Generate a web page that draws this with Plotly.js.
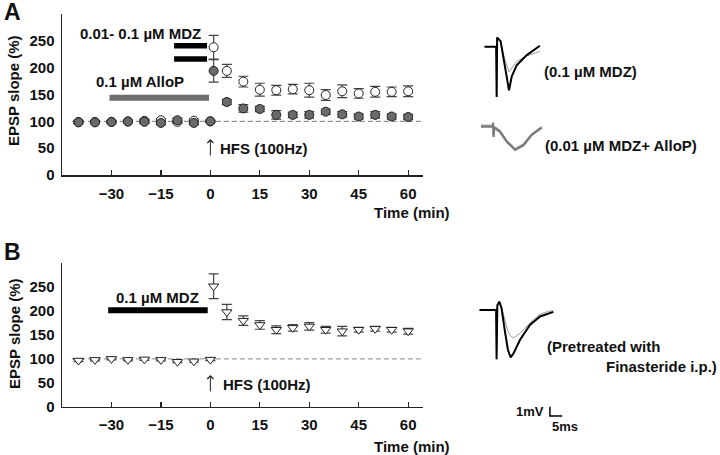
<!DOCTYPE html>
<html><head><meta charset="utf-8">
<script src="https://cdn.plot.ly/plotly-3.0.1.min.js"></script>
<style>html,body{margin:0;padding:0;background:#fff}#chart{width:720px;height:455px}</style>
</head><body><div id="chart"></div><script>
// ---------- data ----------
const timeMin = [-40,-35,-30,-25,-20,-15,-10,-5,0,1,5,10,15,20,25,30,35,40,45,50,55,60];
const xTickVals = [-30,-15,0,15,30,45,60];
const yTickVals = [0,50,100,150,200,250];

// Panel A
const mdzA      = [99,99,99,100,101,102,99,101,100,238,194,174,159,158,160,158,149,156,152,155,155,156];
const mdzAErr   = [2,2,2,2,3,3,3,3,2,22,12,10,12,9,9,13,10,12,9,10,9,10];
const alloA     = [98,98,99,99.5,99,97,102,97,100,194,136,124,123,112,112,112,118,113,109,112,109,108];
const alloAErr  = [2,2,2,2,3,3,4,3,2,21,5,7,5,8,5,6,5,5,5,6,5,5];
// Panel B
const finB      = [96.5,98,100,98,99,98,94,95,98.5,252,198,180,171,161,165,168,161,158,161,163,161,158];
const finBErr   = [2,2,2,2,2,2,2,2,2,26,16,10,9,8,7,8,7,10,5,5,5,6];

const baselinePct = [100, 100];
const baselineSpan = [-42, 64.5];

// drug application bars: [start, end] (min) and level (%)
const mdzBarUpperX = [-11, -1], mdzBarUpperY = [241, 241];
const mdzBarLowerX = [-11, -1], mdzBarLowerY = [216, 216];
const alloBarX = [-30.6, -0.4], alloBarY = [144, 144];
const mdzBarBX = [-31, -0.8], mdzBarBY = [202, 202];

// sample EPSP waveforms (ms, mV)
const wfA1_t     = [0,4.8,5.0,5.2,5.5,6.6,8.4,10,11.1,13.1,17.2,22.5];
const wfA1_post  = [0,0,-5.4,1.0,0.9,0.6,-2.2,-4.7,-3.2,-2.0,-0.9,0.1];
const wfA1_base  = [0,0,-5.4,1.0,0.9,0.5,-1.5,-2.7,-2.3,-1.6,-1.0,-0.5];
const wfA2_t     = [0,4.9,5.0,5.2,5.5,7.8,10.5,13.9,17.3,20.6,24.7];
const wfA2_post  = [0,0,0.4,-1.1,-0.1,-0.55,-1.6,-2.5,-2.0,-0.9,-0.1];
const wfA2_base  = [0.15,0.15,0.5,-1.0,0.05,-0.4,-1.45,-2.35,-1.85,-0.8,0.0];
const wfB_t      = [0,6.8,7.0,7.3,8.1,9.0,10.5,11.6,12.7,14.0,16.5,20.5,24.6,28,30];
const wfB_post   = [0,0,-5.3,0.5,0.9,0.2,-2.5,-4.3,-5.1,-4.6,-3.2,-1.6,-0.7,-0.35,-0.2];
const wfB_base   = [0,0,-5.3,0.5,0.9,0.3,-1.2,-2.3,-2.8,-3.0,-2.5,-1.4,-0.45,-0.15,-0.07];
const scaleBarMV = 1, scaleBarMS = 5;

// ---------- helpers ----------
const W = 720, H = 455;
const px = v => v / W;
const py = v => 1 - v / H;
const FONT = '"Liberation Sans", Arial, Helvetica, sans-serif';
const bold = (s, c) => ({family: FONT, size: s, color: c || '#111', weight: 'bold'});

function errTrace(y, err, xa, ya, sym, fill, name) {
  return {
    x: timeMin, y: y, xaxis: xa, yaxis: ya, type: 'scatter', mode: 'markers', name: name,
    marker: {symbol: sym, size: 9, color: fill, line: {color: '#222', width: 1}},
    error_y: {type: 'data', array: err, visible: true, color: '#444', thickness: 1.2, width: 5},
    cliponaxis: false, showlegend: false
  };
}
function barTrace(x, y, xa, ya, color, w) {
  return {x: x, y: y, xaxis: xa, yaxis: ya, mode: 'lines', line: {color: color, width: w},
          showlegend: false, hoverinfo: 'skip'};
}
function lineTrace(x, y, xa, ya, color, w, dash) {
  return {x: x, y: y, xaxis: xa, yaxis: ya, mode: 'lines',
          line: {color: color, width: w, dash: dash || 'solid'}, showlegend: false, hoverinfo: 'skip'};
}

const traces = [
  // panel A
  lineTrace(baselineSpan, baselinePct, 'x', 'y', '#777', 1, '5px,3px'),
  barTrace(alloBarX, alloBarY, 'x', 'y', '#6e6e6e', 6),
  barTrace(mdzBarUpperX, mdzBarUpperY, 'x', 'y', '#000', 5.5),
  barTrace(mdzBarLowerX, mdzBarLowerY, 'x', 'y', '#000', 5.5),
  errTrace(mdzA, mdzAErr, 'x', 'y', 'circle', '#ffffff', '0.1 µM MDZ'),
  errTrace(alloA, alloAErr, 'x', 'y', 'circle', '#6a6a6a', '0.01 µM MDZ + AlloP'),
  // panel B
  lineTrace(baselineSpan, baselinePct, 'x2', 'y2', '#888', 1, '5px,3px'),
  barTrace(mdzBarBX, mdzBarBY, 'x2', 'y2', '#000', 6),
  errTrace(finB, finBErr, 'x2', 'y2', 'triangle-down', '#ffffff', 'Finasteride'),
  // waveforms
  lineTrace(wfA1_t, wfA1_base, 'x3', 'y3', '#9a9a9a', 1),
  lineTrace(wfA1_t, wfA1_post, 'x3', 'y3', '#000', 2),
  lineTrace(wfA2_t, wfA2_base, 'x4', 'y4', '#aaaaaa', 1.5),
  lineTrace(wfA2_t, wfA2_post, 'x4', 'y4', '#7a7a7a', 2.2),
  lineTrace(wfB_t, wfB_base, 'x5', 'y5', '#9a9a9a', 1),
  lineTrace(wfB_t, wfB_post, 'x5', 'y5', '#000', 2),
  // scale bar
  lineTrace([28.6, 28.6, 28.6 + scaleBarMS], [-11.4 + scaleBarMV, -11.4, -11.4], 'x5', 'y5', '#000', 1.5)
];

function mainX(dom, anchor) {
  return {domain: dom, anchor: anchor, range: [-45, 64.5], tickmode: 'array', tickvals: xTickVals,
    ticks: 'inside', ticklen: 5, tickwidth: 1.2, tickcolor: '#222', showline: true, linecolor: '#222',
    linewidth: 1.5, showgrid: false, zeroline: false, tickfont: bold(15), ticklabelstandoff: 4, fixedrange: true};
}
function mainY(dom, anchor) {
  return {domain: dom, anchor: anchor, range: [0, 300], tickmode: 'array', tickvals: yTickVals,
    ticks: '', showline: true, linecolor: '#222', linewidth: 1.5, showgrid: false, zeroline: false,
    tickfont: bold(15), ticklabelstandoff: 3, fixedrange: true};
}
const hidden = (dom, range, anchor) => ({domain: dom, range: range, anchor: anchor, visible: false, fixedrange: true});

function note(text, xp, yp, size, xanchor, extra) {
  return Object.assign({text: text, x: px(xp), y: py(yp), xref: 'paper', yref: 'paper',
    xanchor: xanchor || 'center', yanchor: 'middle', showarrow: false, font: bold(size)}, extra || {});
}

const layout = {
  width: W, height: H, margin: {l: 0, r: 0, t: 0, b: 0},
  paper_bgcolor: '#fff', plot_bgcolor: 'rgba(0,0,0,0)', showlegend: false,
  font: {family: FONT, color: '#111'},
  xaxis: mainX([px(62), px(423)], 'y'),
  yaxis: mainY([py(175), py(14)], 'x'),
  xaxis2: mainX([px(62), px(423)], 'y2'),
  yaxis2: mainY([py(406.7), py(263.3)], 'x2'),
  xaxis3: hidden([px(484.3), px(544)], [0, (544 - 484.3) / 2.47], 'y3'),
  yaxis3: hidden([py(100), py(30)], [-(100 - 46.7) / 9.3, (46.7 - 30) / 9.3], 'x3'),
  xaxis4: hidden([px(480.7), px(545)], [0, (545 - 480.7) / 2.47], 'y4'),
  yaxis4: hidden([py(155), py(115)], [-(155 - 126.7) / 9.3, (126.7 - 115) / 9.3], 'x4'),
  xaxis5: hidden([px(479.3), px(570)], [0, (570 - 479.3) / 2.47], 'y5'),
  yaxis5: hidden([py(420), py(295)], [-(420 - 310) / 9.3, (310 - 295) / 9.3], 'x5'),
  annotations: [
    note('A', 2, 12, 23, 'left'),
    note('B', 2, 252, 23, 'left'),
    note('EPSP slope (%)', 14, 91, 15, 'center', {textangle: -90}),
    note('EPSP slope (%)', 14, 334, 15, 'center', {textangle: -90}),
    note('Time (min)', 411.5, 212, 15),
    note('Time (min)', 411.5, 446, 15),
    {text: '0.01- 0.1 µM MDZ', x: -21.3, y: 264, xref: 'x', yref: 'y', yanchor: 'middle', showarrow: false, font: bold(15)},
    {text: '0.1 µM AlloP', x: -21.2, y: 175, xref: 'x', yref: 'y', yanchor: 'middle', showarrow: false, font: bold(15)},
    {text: '0.1 µM MDZ', x: -16, y: 228.5, xref: 'x2', yref: 'y2', yanchor: 'middle', showarrow: false, font: bold(15)},
    {text: 'HFS (100Hz)', x: 2.3, y: 50, xref: 'x', yref: 'y', xanchor: 'left', yanchor: 'middle', showarrow: false, font: bold(15)},
    {text: 'HFS (100Hz)', x: 3.2, y: 45.5, xref: 'x2', yref: 'y2', xanchor: 'left', yanchor: 'middle', showarrow: false, font: bold(15)},
    {text: '', x: 0, y: 67, xref: 'x', yref: 'y', showarrow: true, ax: 0, ay: 18, arrowhead: 4, arrowsize: 1.2, arrowwidth: 1, arrowcolor: '#222'},
    {text: '', x: 0, y: 66.5, xref: 'x2', yref: 'y2', showarrow: true, ax: 0, ay: 18, arrowhead: 4, arrowsize: 1.2, arrowwidth: 1, arrowcolor: '#222'},
    note('(0.1 µM MDZ)', 541.7, 71, 15, 'left'),
    note('(0.01 µM MDZ+ AlloP)', 543, 145, 15, 'left'),
    note('(Pretreated with', 545, 346.7, 15, 'left'),
    note('Finasteride i.p.)', 718.5, 366, 15, 'right'),
    note('1mV', 546, 411.7, 13, 'right'),
    note('5ms', 564.5, 426.7, 13)
  ]
};

Plotly.newPlot('chart', traces, layout, {staticPlot: true, displayModeBar: false});
</script></body></html>
